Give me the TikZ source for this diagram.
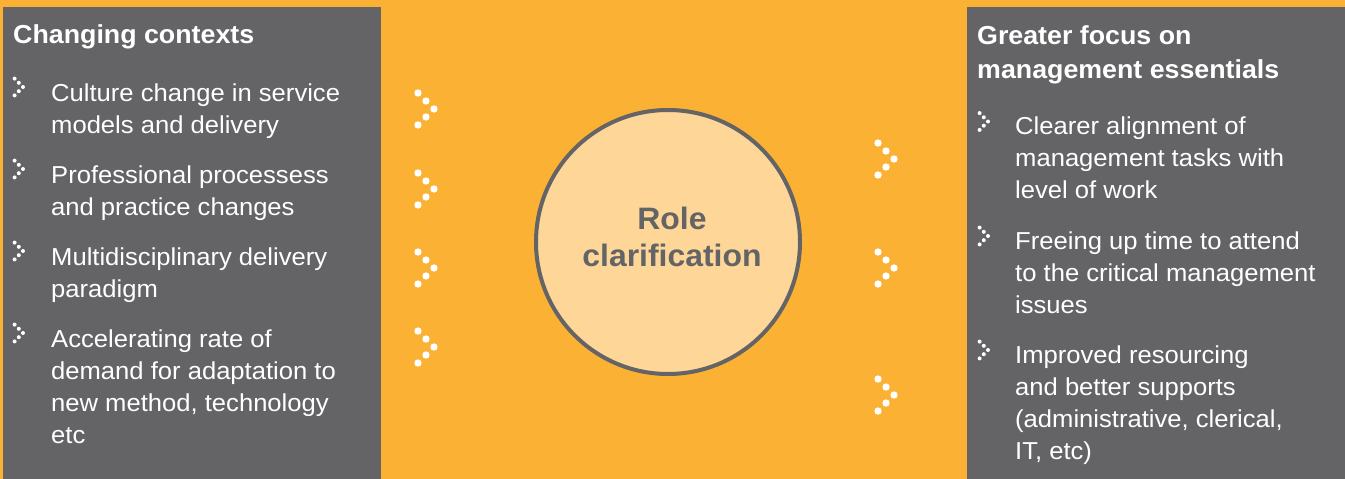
\documentclass[tikz,border=0pt]{standalone}
\usepackage{fontspec}
\setmainfont{Liberation Sans}
\newfontfamily\bodyfont[FakeStretch=1.045]{Liberation Sans}
\newfontfamily\headfont[FakeStretch=1.03]{Liberation Sans}
\definecolor{bgorange}{HTML}{FBB134}
\definecolor{panelgrey}{HTML}{646466}
\definecolor{circlefill}{HTML}{FDD698}

% several lines, aligned on the baseline of the first one
\newcommand{\stacklines}[1]{\begin{tabular}[t]{@{}l@{}}#1\end{tabular}}

\tikzset{
  panel/.style={fill=panelgrey, draw=none},
  heading/.style={anchor=base west, inner sep=0pt, text=white,
    font=\headfont\fontsize{26}{34}\selectfont\bfseries},
  itemtext/.style={anchor=base west, inner sep=0pt, text=white,
    font=\bodyfont\fontsize{24.5}{32}\selectfont},
  centretext/.style={align=center, inner sep=0pt, text=panelgrey,
    font=\headfont\fontsize{31}{37.5}\selectfont\bfseries},
  hub/.style={circle, fill=circlefill, draw=panelgrey, line width=4pt,
    minimum size=264pt, inner sep=0pt},
  pics/dotchevron/.style args={#1/#2}{code={
    \foreach \dx/\dy in {-2/-2,-1/-1,0/0,-1/1,-2/2}
      \fill[white] (\dx*#1,\dy*#1) circle (#2);
  }},
  pics/bigchevron/.style={code={\pic {dotchevron={8/3.7}};}},
  pics/smallchevron/.style={code={\pic {dotchevron={4.2/2}};}},
}

\begin{document}
\begin{tikzpicture}[x=1pt,y=-1pt]
  \useasboundingbox (0,0) rectangle (1345,479);
  \fill[bgorange] (0,0) rectangle (1345,479);

  % side panels
  \fill[panel] (3,7) rectangle (381,479);
  \fill[panel] (967,7) rectangle (1345,479);

  % left column: changing contexts
  \node[heading] (lhead) at (13,43.5) {Changing contexts};
  \node[itemtext] (l1) at (51,101) {\stacklines{Culture change in service\\models and delivery}};
  \node[itemtext] (l2) at (51,183) {\stacklines{Professional processess\\and practice changes}};
  \node[itemtext] (l3) at (51,265) {\stacklines{Multidisciplinary delivery\\paradigm}};
  \node[itemtext] (l4) at (51,347) {\stacklines{Accelerating rate of\\demand for adaptation to\\new method, technology\\etc}};
  \foreach \n in {l1,l2,l3,l4}
    \pic at ([shift={(-28,-14)}]\n.base west) {smallchevron};

  % right column: management essentials
  \node[heading] (rhead) at (977,44.5) {\stacklines{Greater focus on\\management essentials}};
  \node[itemtext] (r1) at (1015,134.5) {\stacklines{Clearer alignment of\\management tasks with\\level of work}};
  \node[itemtext] (r2) at (1015,249) {\stacklines{Freeing up time to attend\\to the critical management\\issues}};
  \node[itemtext] (r3) at (1015,363) {\stacklines{Improved resourcing\\and better supports\\(administrative, clerical,\\IT, etc)}};
  \foreach \n in {r1,r2,r3}
    \pic at ([shift={(-27,-13)}]\n.base west) {smallchevron};

  % central hub
  \node[hub] (hub) at (668,242) {};
  \node[centretext] (hubtext) at (672,237) {Role\\clarification};

  % flow markers
  \foreach \y in {109,189,268,347}
    \pic at (434,\y) {bigchevron};
  \foreach \y in {159,268,395}
    \pic at (894,\y) {bigchevron};
\end{tikzpicture}
\end{document}
